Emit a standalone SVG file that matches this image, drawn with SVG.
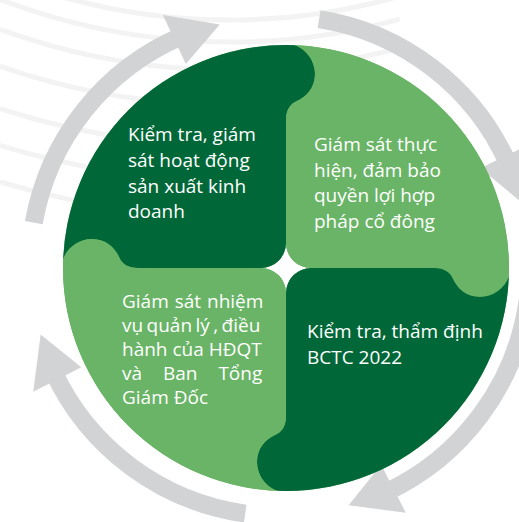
<svg xmlns="http://www.w3.org/2000/svg" xmlns:xlink="http://www.w3.org/1999/xlink" width="519" height="522" viewBox="0 0 519 522">
<style>
.dark{fill:#006838}
.light{fill:#69b466}
.arc{fill:none;stroke:#d1d3d4;stroke-width:18}
.head{fill:#d1d3d4}
.bgline{fill:none;stroke:#f3f3f3;stroke-width:5}
.lbl{fill:#ffffff;font-family:"Open Sans","Noto Sans","Liberation Sans",sans-serif;font-size:19px}
</style>
<defs>
<clipPath id="disc"><circle cx="0" cy="0" r="223"/></clipPath>
<path id="quad" d="M-25,0 A25,25 0 0 0 0,-25 L0,-148 C0,-158 4,-164 11,-167 C20,-171 29,-180 29,-194 C29,-208 19,-221 5,-224 L5,-240 L-240,-240 L-240,-5 L-224,-5 C-221,-19 -208,-29 -194,-29 C-180,-29 -171,-20 -167,-11 C-164,-4 -158,0 -148,0 Z"/>
<g id="arrow">
<path class="arc" d="M-246.2,-43.4 A250,250 0 0 1 -97.7,-230.1"/>
<polygon class="head" points="-117.1,-251 -60.2,-241.6 -94.2,-202.1"/>
</g>
</defs>
<rect width="519" height="522" fill="#ffffff"/>
<g id="background">
<path class="bgline" d="M0,-24.2 A620,620 0 0 0 400,-3.8"/>
<path class="bgline" d="M0,-0.6 A642,642 0 0 0 400,19.1"/>
<path class="bgline" d="M0,29.3 A670,670 0 0 0 400,48.1"/>
<path class="bgline" d="M0,66.4 A705,705 0 0 0 400,84.2"/>
<path class="bgline" d="M0,108.6 A745,745 0 0 0 400,125.4"/>
<path class="bgline" d="M0,145.3 A780,780 0 0 0 200,179"/>
<path class="bgline" d="M0,181.9 A815,815 0 0 0 150,212"/>
</g>
<g id="connectors" transform="translate(280,266)">
<use xlink:href="#arrow"/>
<use xlink:href="#arrow" transform="rotate(89)"/>
<use xlink:href="#arrow" transform="rotate(178)"/>
<use xlink:href="#arrow" transform="rotate(268)"/>
</g>
<path class="light" transform="translate(286,268)" fill-rule="evenodd" d="M-223,0 A223,223 0 1 0 223,0 A223,223 0 1 0 -223,0 Z M0,-25 A25,25 0 0 0 25,0 A25,25 0 0 0 0,25 A25,25 0 0 0 -25,0 A25,25 0 0 0 0,-25 Z"/>
<g id="q1">
<use xlink:href="#quad" class="dark" transform="translate(286,268)" clip-path="url(#disc)"/>
<text class="lbl"><tspan x="128" y="141">Kiểm tra, giám</tspan><tspan x="128" y="167">sát hoạt động</tspan><tspan x="128" y="193">sản xuất kinh</tspan><tspan x="128" y="218">doanh</tspan></text>
</g>
<g id="q2">
<use xlink:href="#quad" class="light" transform="translate(286,268) rotate(90)" clip-path="url(#disc)"/>
<text class="lbl"><tspan x="314" y="151">Giám sát thực</tspan><tspan x="314" y="177">hiện, đảm bảo</tspan><tspan x="314" y="202">quyền lợi hợp</tspan><tspan x="314" y="228">pháp cổ đông</tspan></text>
</g>
<g id="q3">
<use xlink:href="#quad" class="dark" transform="translate(286,268) rotate(180)" clip-path="url(#disc)"/>
<text class="lbl"><tspan x="307" y="338">Kiểm tra, thẩm định</tspan><tspan x="307" y="364">BCTC 2022</tspan></text>
</g>
<g id="q4">
<use xlink:href="#quad" class="light" transform="translate(286,268) rotate(270)" clip-path="url(#disc)"/>
<text class="lbl"><tspan x="122" y="308" word-spacing="1">Giám sát nhiệm</tspan><tspan x="122" y="332" word-spacing="-1.5">vụ quản lý , điều</tspan><tspan x="122" y="356">hành của HĐQT</tspan><tspan x="122" y="380" word-spacing="16">và Ban Tổng</tspan><tspan x="122" y="404">Giám Đốc</tspan></text>
</g>
</svg>
